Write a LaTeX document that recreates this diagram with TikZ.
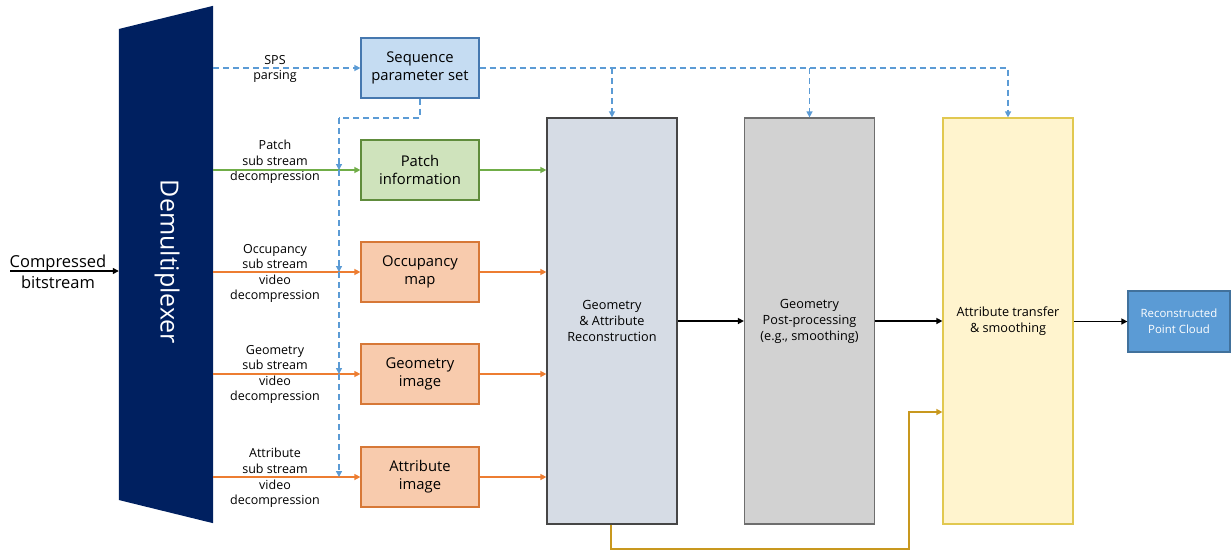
\documentclass[tikz,border=0pt]{standalone}
\usepackage{fontspec}
\setmainfont{Open Sans}
\usetikzlibrary{arrows.meta}
\definecolor{navy}{RGB}{0,32,96}
\definecolor{spsfill}{RGB}{197,220,242}
\definecolor{spsedge}{RGB}{70,120,175}
\definecolor{patchfill}{RGB}{207,227,188}
\definecolor{patchedge}{RGB}{96,140,60}
\definecolor{orfill}{RGB}{248,203,173}
\definecolor{oredge}{RGB}{215,120,55}
\definecolor{orline}{RGB}{237,125,49}
\definecolor{grline}{RGB}{112,173,71}
\definecolor{blline}{RGB}{91,155,213}
\definecolor{garfill}{RGB}{214,220,229}
\definecolor{garedge}{RGB}{70,70,70}
\definecolor{ppfill}{RGB}{210,210,210}
\definecolor{ppedge}{RGB}{110,110,110}
\definecolor{atfill}{RGB}{255,244,206}
\definecolor{atedge}{RGB}{225,200,80}
\definecolor{rpcfill}{RGB}{91,155,213}
\definecolor{rpcedge}{RGB}{65,113,156}
\definecolor{goldline}{RGB}{200,152,30}
\tikzset{
  tip/.style={-{Triangle[length=6pt,width=6pt]}},
  conn/.style={line width=1.3pt, tip},
  smallbox/.style={draw, line width=1.2pt, minimum width=118pt, minimum height=60pt,
    align=center, font=\fontsize{14.8}{18}\selectfont, inner sep=1pt},
  bigbox/.style={draw, line width=1.2pt, minimum width=130pt, minimum height=406pt,
    align=center, font=\fontsize{12.7}{16}\selectfont, inner sep=1pt},
  lbl/.style={align=center, font=\fontsize{12.5}{15.6}\selectfont, inner sep=0pt},
  dashblue/.style={blline, line width=1.3pt, dash pattern=on 6pt off 4pt},
}
\begin{document}
\begin{tikzpicture}[x=1pt,y=-1pt]
\useasboundingbox (0,0) rectangle (1231,550);

% demultiplexer trapezoid
\node[minimum width=94pt, minimum height=517pt, inner sep=0pt] (dmx) at (166,264.5) {};
\fill[navy] (dmx.west |- 0,29) -- (dmx.north east) -- (dmx.south east) -- (dmx.west |- 0,500) -- cycle;
\node[white, rotate=-90, font=\fontsize{25}{28}\selectfont] (dmxtext) at (167,262) {Demultiplexer};

% input
\coordinate (inp) at (10,271);
\node[align=center, font=\fontsize{16.5}{21}\selectfont, inner sep=0pt] (cb) at (58,272) {Compressed\\bitstream};
\draw[conn, black] (inp) -- (dmx.west |- inp);

% stream boxes
\node[smallbox, fill=spsfill, draw=spsedge] (sps) at (420,68) {Sequence\\parameter set};
\node[smallbox, fill=patchfill, draw=patchedge] (patch) at (420,170) {Patch\\information};
\node[smallbox, fill=orfill, draw=oredge] (occ) at (420,272) {Occupancy\\map};
\node[smallbox, fill=orfill, draw=oredge] (geo) at (420,374) {Geometry\\image};
\node[smallbox, fill=orfill, draw=oredge] (att) at (420,477) {Attribute\\image};

% stream labels
\node[lbl] (lsps) at (275,69) {SPS\\parsing};
\node[lbl] (lpatch) at (275,162) {Patch\\sub stream\\decompression};
\node[lbl] (locc) at (275,273.5) {Occupancy\\sub stream\\video\\decompression};
\node[lbl] (lgeo) at (275,374.5) {Geometry\\sub stream\\video\\decompression};
\node[lbl] (latt) at (275,478) {Attribute\\sub stream\\video\\decompression};

% processing blocks
\node[bigbox, fill=garfill, draw=garedge] (gar) at (612,321) {Geometry\\\& Attribute\\Reconstruction};
\node[bigbox, fill=ppfill, draw=ppedge] (pp) at (809.5,321) {Geometry\\Post-processing\\(e.g., smoothing)};
\node[bigbox, fill=atfill, draw=atedge] (at) at (1008,321) {Attribute transfer\\\& smoothing};
\node[draw=rpcedge, fill=rpcfill, line width=1.2pt, minimum width=102pt, minimum height=61pt,
  align=center, text=white, font=\fontsize{11.4}{16}\selectfont, inner sep=1pt] (rpc) at (1179,321.5) {Reconstructed\\Point Cloud};

% demux outputs
\draw[tip, dashblue] (dmx.east |- sps) -- (sps);
\draw[conn, grline] (dmx.east |- patch) -- (patch);
\draw[conn, orline] (dmx.east |- occ) -- (occ);
\draw[conn, orline] (dmx.east |- geo) -- (geo);
\draw[conn, orline] (dmx.east |- att) -- (att);

% SPS distribution to the stream decoders
\coordinate (sd0) at (339,118);
\coordinate (sd1) at (339,170);
\coordinate (sd2) at (339,272);
\coordinate (sd3) at (339,374);
\coordinate (sd4) at (339,477);
\draw[dashblue] (sps.south) |- (sd0);
\draw[dashblue, tip] (sd0) -- (sd1);
\draw[dashblue, tip] (sd1) -- (sd2);
\draw[dashblue, tip] (sd2) -- (sd3);
\draw[dashblue, tip] (sd3) -- (sd4);

% SPS distribution to the processing blocks
\coordinate (sr) at (1008,68);
\draw[dashblue, tip] (sps.east) -- (sr) -- (at.north);
\draw[dashblue, tip] (gar.north |- sps) -- (gar.north);
\draw[dashblue, tip] (pp.north |- sps) -- (pp.north);

% inputs to reconstruction
\draw[conn, grline] (patch) -- (gar.west |- patch);
\draw[conn, orline] (occ) -- (gar.west |- occ);
\draw[conn, orline] (geo) -- (gar.west |- geo);
\draw[conn, orline] (att) -- (gar.west |- att);

% main chain
\draw[conn] (gar) -- (pp);
\draw[conn] (pp) -- (at);
\draw[conn] (at.east |- rpc) -- (rpc);

% bypass of reconstructed attributes
\coordinate (gb) at (611,549);
\coordinate (gc) at (909,412);
\draw[conn, goldline] (gar.south -| gb) -- (gb) -| (gc) -- (at.west |- gc);
\end{tikzpicture}
\end{document}
